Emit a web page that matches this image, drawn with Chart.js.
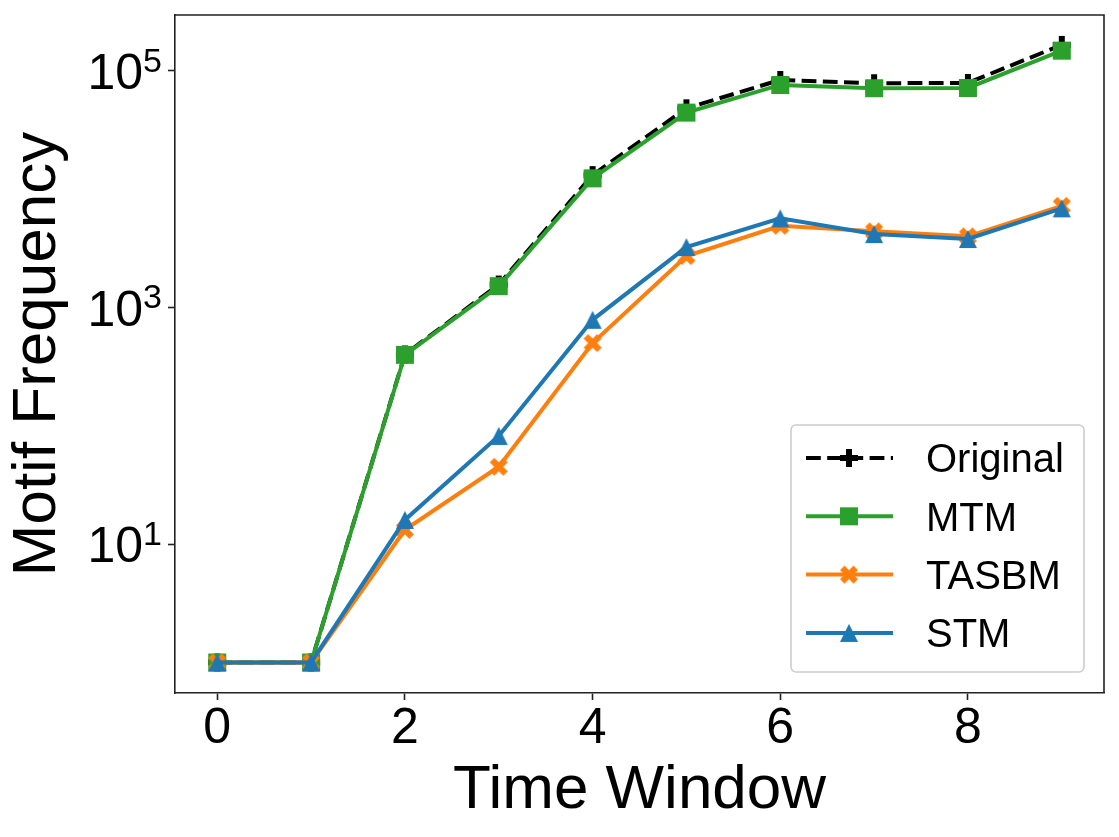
<!DOCTYPE html>
<html>
<head>
<meta charset="utf-8">
<title>Motif Frequency per Time Window</title>
<script src="https://cdn.jsdelivr.net/npm/chart.js@4.4.1/dist/chart.umd.min.js"></script>
<style>
    html, body { margin: 0; padding: 0; background: #fff; }
    #wrap { width: 1119px; height: 837px; }
</style>
</head>
<body>
<div id="wrap"><canvas id="motifChart" width="1119" height="837"></canvas></div>
<script>
// Values (log scale)
const timeWindows  = [0, 1, 2, 3, 4, 5, 6, 7, 8, 9];
const originalFreq = [1, 1, 400, 1560, 13100, 48100, 83400, 78300, 78700, 165000];
const mtmFreq      = [1, 1, 397, 1510, 12300, 44200, 75700, 71000, 71400, 147500];
const tasbmFreq    = [1, 1, 13.2, 45, 499, 2710, 4890, 4390, 3980, 7210];
const stmFreq      = [1, 1, 16, 82, 785, 3230, 5650, 4160, 3780, 6860];

const xTickValues = [0, 2, 4, 6, 8];
const yTickValues = [10, 1000, 100000];

const FONT = "'Liberation Sans', Arial, Helvetica, sans-serif";
const AXIS_COLOR = '#222';

// Filled marker shapes, same outlines as matplotlib's P, s, X, ^
function makeMarker(shape, color, size) {
    const c = document.createElement('canvas');
    c.width = c.height = size + 4;
    const g = c.getContext('2d');
    g.translate(c.width / 2, c.height / 2);
    g.scale(size, size);
    g.fillStyle = color;
    let pts;
    if (shape === 'square') {
        pts = [[-0.5, -0.5], [0.5, -0.5], [0.5, 0.5], [-0.5, 0.5]];
    } else if (shape === 'triangle') {
        pts = [[0, -0.5], [0.5, 0.5], [-0.5, 0.5]];
    } else if (shape === 'plus') {
        pts = [[-1, -3], [1, -3], [1, -1], [3, -1], [3, 1], [1, 1],
               [1, 3], [-1, 3], [-1, 1], [-3, 1], [-3, -1], [-1, -1]].map(p => [p[0] / 6, p[1] / 6]);
    } else {
        pts = [[-1, -2], [0, -1], [1, -2], [2, -1], [1, 0], [2, 1],
               [1, 2], [0, 1], [-1, 2], [-2, 1], [-1, 0], [-2, -1]].map(p => [p[0] / 4, p[1] / 4]);
    }
    g.beginPath();
    pts.forEach((p, i) => i ? g.lineTo(p[0], p[1]) : g.moveTo(p[0], p[1]));
    g.closePath();
    g.fill();
    return c;
}

const series = [
    { label: 'Original', values: originalFreq, color: '#000000', marker: makeMarker('plus', '#000000', 18), dash: [14.8, 6.4], order: 4 },
    { label: 'MTM', values: mtmFreq, color: '#2ca02c', marker: makeMarker('square', '#2ca02c', 18), dash: [], order: 3 },
    { label: 'TASBM', values: tasbmFreq, color: '#ff7f0e', marker: makeMarker('x', '#ff7f0e', 18), dash: [], order: 2 },
    { label: 'STM', values: stmFreq, color: '#1f77b4', marker: makeMarker('triangle', '#1f77b4', 18), dash: [], order: 1 }
];

function roundedRect(ctx, x, y, w, h, r) {
    ctx.beginPath();
    ctx.moveTo(x + r, y);
    ctx.arcTo(x + w, y, x + w, y + h, r);
    ctx.arcTo(x + w, y + h, x, y + h, r);
    ctx.arcTo(x, y + h, x, y, r);
    ctx.arcTo(x, y, x + w, y, r);
    ctx.closePath();
}

function drawLegend(chart) {
    const { ctx, chartArea: a } = chart;
    const w = 293, h = 247;
    const left = a.right - 20 - w, top = a.bottom - 21 - h;
    ctx.save();
    roundedRect(ctx, left, top, w, h, 5);
    ctx.fillStyle = 'rgba(255,255,255,0.8)';
    ctx.fill();
    ctx.strokeStyle = '#cccccc';
    ctx.lineWidth = 1.6;
    ctx.stroke();

    ctx.font = `40px ${FONT}`;
    ctx.textAlign = 'left';
    ctx.textBaseline = 'alphabetic';
    series.forEach((s, i) => {
        const rowY = top + 33 + i * 58.3;
        ctx.beginPath();
        ctx.setLineDash(s.dash);
        ctx.strokeStyle = s.color;
        ctx.lineWidth = 4;
        ctx.moveTo(left + 15, rowY);
        ctx.lineTo(left + 102, rowY);
        ctx.stroke();
        ctx.setLineDash([]);
        ctx.drawImage(s.marker, left + 58 - s.marker.width / 2, rowY - s.marker.height / 2);
        ctx.fillStyle = '#000';
        ctx.fillText(s.label, left + 135, rowY + 14.3);
    });
    ctx.restore();
}

// Top/right spines, 10^n tick labels and the legend box
const frameAndLabels = {
    id: 'frameAndLabels',
    afterDraw(chart) {
        const { ctx, chartArea: a, scales: { y } } = chart;
        ctx.save();
        ctx.strokeStyle = AXIS_COLOR;
        ctx.lineWidth = 1.6;
        ctx.beginPath();
        ctx.moveTo(a.left, a.top);
        ctx.lineTo(a.right, a.top);
        ctx.lineTo(a.right, a.bottom);
        ctx.stroke();

        ctx.fillStyle = '#000';
        ctx.textAlign = 'right';
        ctx.textBaseline = 'alphabetic';
        const right = a.left - 13;
        yTickValues.forEach(v => {
            const py = y.getPixelForValue(v);
            const exp = String(Math.round(Math.log10(v)));
            ctx.font = `34px ${FONT}`;
            const ew = ctx.measureText(exp).width;
            ctx.fillText(exp, right, py + 1);
            ctx.font = `50px ${FONT}`;
            ctx.fillText('10', right - ew, py + 18.4);
        });
        ctx.restore();
        drawLegend(chart);
    }
};

const axisGrid = {
    display: true,
    drawOnChartArea: false,
    drawTicks: true,
    tickLength: 7,
    tickWidth: 1.6,
    tickColor: AXIS_COLOR
};

new Chart(document.getElementById('motifChart').getContext('2d'), {
    type: 'line',
    data: {
        datasets: series.map(s => ({
            label: s.label,
            data: timeWindows.map((t, i) => ({ x: t, y: s.values[i] })),
            borderColor: s.color,
            backgroundColor: s.color,
            borderWidth: 4,
            borderDash: s.dash,
            pointStyle: s.marker,
            pointRadius: 9,
            pointHoverRadius: 9,
            tension: 0,
            order: s.order,
            clip: false
        }))
    },
    options: {
        responsive: false,
        animation: false,
        events: [],
        layout: { padding: { top: 15, right: 15, left: 0, bottom: 0 } },
        plugins: { legend: { display: false }, tooltip: { enabled: false } },
        scales: {
            x: {
                type: 'linear',
                min: -0.45,
                max: 9.45,
                afterBuildTicks: s => { s.ticks = xTickValues.map(v => ({ value: v })); },
                afterFit: s => { s.height = 144; },
                grid: axisGrid,
                border: { display: true, color: AXIS_COLOR, width: 1.6 },
                ticks: {
                    color: '#000',
                    padding: 0,
                    maxRotation: 0,
                    autoSkip: false,
                    font: { family: FONT, size: 50, lineHeight: 1.15 }
                },
                title: {
                    display: true,
                    text: 'Time Window',
                    color: '#000',
                    font: { family: FONT, size: 62 },
                    padding: { top: 0, bottom: 9 }
                }
            },
            y: {
                type: 'logarithmic',
                min: Math.pow(10, -0.258),
                max: Math.pow(10, 5.47),
                afterBuildTicks: s => { s.ticks = yTickValues.map(v => ({ value: v })); },
                afterFit: s => { s.width = 175; },
                grid: axisGrid,
                border: { display: true, color: AXIS_COLOR, width: 1.6 },
                ticks: { display: false },
                title: {
                    display: true,
                    text: 'Motif Frequency',
                    color: '#000',
                    font: { family: FONT, size: 62 },
                    padding: { top: 1, bottom: 0 }
                }
            }
        }
    },
    plugins: [frameAndLabels]
});
</script>
</body>
</html>
